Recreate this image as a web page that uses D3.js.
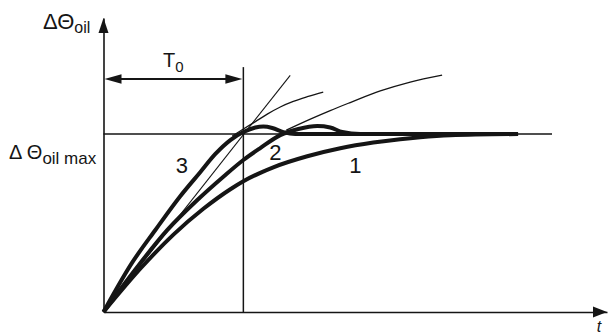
<!DOCTYPE html>
<html>
<head>
<meta charset="utf-8">
<script src="https://cdn.jsdelivr.net/npm/d3@7"></script>
<style>
  html, body { margin: 0; padding: 0; background: #fff; }
  svg { display: block; font-family: "Liberation Sans", Arial, sans-serif; }
</style>
</head>
<body>
<svg id="chart" width="608" height="334"></svg>
<script>
// Time is measured in units of T0, the rise relative to ΔΘoil max.
const tMax = 3.6;
const vMax = 1.652;
const tEndRef = 3.207;   // end of the ΔΘoil max reference line
const tTopT0 = 1.376;    // top of the T0 marker line
const vT0Arrow = 1.309;  // height of the T0 dimension arrow

// heating curve 1 (slowest)
const curve1 = [
  [0, 0], [0.271, 0.25], [0.5, 0.435], [0.714, 0.58], [0.907, 0.69],
  [1.0, 0.735], [1.121, 0.782], [1.214, 0.813], [1.457, 0.875], [1.693, 0.92],
  [1.929, 0.952], [2.121, 0.971], [2.264, 0.982], [2.479, 0.993], [2.964, 1.0]
];
// heating curve 2 (small overshoot)
const curve2 = [
  [0, 0], [0.243, 0.255], [0.457, 0.461], [0.671, 0.629], [0.857, 0.76],
  [1.0, 0.854], [1.121, 0.921], [1.264, 0.994], [1.393, 1.028], [1.529, 1.045],
  [1.621, 1.037], [1.707, 1.011], [1.836, 1.0], [2.4, 1.0], [2.964, 1.0]
];
// heating curve 3 (fastest)
const curve3 = [
  [0, 0], [0.207, 0.28], [0.371, 0.461], [0.55, 0.652], [0.693, 0.787],
  [0.8, 0.888], [0.907, 0.966], [1.0, 1.011], [1.086, 1.037], [1.143, 1.042],
  [1.207, 1.034], [1.286, 1.011], [1.371, 1.0], [2.1, 1.0], [2.964, 1.0]
];
// initial tangent through (T0, ΔΘoil max)
const tangentLine = [[0, 0], [1.335, 1.33]];
// continued rise without saturation
const extrapolationA = [
  [0.921, 0.989], [1.0, 1.028], [1.086, 1.07], [1.171, 1.112], [1.264, 1.152],
  [1.357, 1.183], [1.464, 1.211], [1.571, 1.236]
];
const extrapolationB = [
  [1.307, 1.022], [1.479, 1.084], [1.621, 1.132], [1.764, 1.177], [1.979, 1.242],
  [2.193, 1.292], [2.421, 1.331]
];

const curveNames = ["1", "2", "3"];
const curveNameAnchors = [[1.8, 0.781], [1.229, 0.854], [0.561, 0.781]];

const svg = d3.select("#chart");
const ink = "#151515";

const x = d3.scaleLinear().domain([0, tMax]).range([103.5, 607]);
const y = d3.scaleLinear().domain([0, vMax]).range([312, 18]);

const line = d3.line().x(d => x(d[0])).y(d => y(d[1])).curve(d3.curveMonotoneX);
const straight = d3.line().x(d => x(d[0])).y(d => y(d[1]));

// axes without ticks, arrowheads at their ends
const xAxis = svg.append("g")
  .attr("transform", `translate(0,${y(0)})`)
  .call(d3.axisBottom(x).tickValues([]).tickSizeOuter(0));
const yAxis = svg.append("g")
  .attr("transform", `translate(${x(0)},0)`)
  .call(d3.axisLeft(y).tickValues([]).tickSizeOuter(0));
[xAxis, yAxis].forEach(g => g.select(".domain").attr("stroke", ink).attr("stroke-width", 1.6));

const arrowHead = (tipX, tipY, dx, dy, len, half) => {
  // dx, dy: unit direction of the arrow
  const bx = tipX - dx * len, by = tipY - dy * len;
  const px = -dy * half, py = dx * half;
  return `M${tipX},${tipY}L${bx + px},${by + py}L${bx - px},${by - py}Z`;
};
svg.append("path").attr("d", arrowHead(x(tMax), y(0), 1, 0, 14, 5.5)).attr("fill", ink);
svg.append("path").attr("d", arrowHead(x(0), y(vMax), 0, -1, 15, 5)).attr("fill", ink);

// reference lines
svg.append("line")
  .attr("x1", x(0)).attr("x2", x(tEndRef))
  .attr("y1", y(1)).attr("y2", y(1))
  .attr("stroke", ink).attr("stroke-width", 1.4);
svg.append("line")
  .attr("x1", x(1)).attr("x2", x(1))
  .attr("y1", y(0)).attr("y2", y(tTopT0))
  .attr("stroke", ink).attr("stroke-width", 1.5);

// T0 dimension arrow
svg.append("line")
  .attr("x1", x(0) + 10).attr("x2", x(1) - 10)
  .attr("y1", y(vT0Arrow)).attr("y2", y(vT0Arrow))
  .attr("stroke", ink).attr("stroke-width", 2);
svg.append("path").attr("d", arrowHead(x(0) + 1, y(vT0Arrow), -1, 0, 17, 4.8)).attr("fill", ink);
svg.append("path").attr("d", arrowHead(x(1) - 1, y(vT0Arrow), 1, 0, 17, 4.8)).attr("fill", ink);

// thin construction lines
svg.append("path").attr("d", straight(tangentLine))
  .attr("fill", "none").attr("stroke", ink).attr("stroke-width", 1.1);
[extrapolationA, extrapolationB].forEach(pts => {
  svg.append("path").attr("d", line(pts))
    .attr("fill", "none").attr("stroke", ink).attr("stroke-width", 1.3);
});

// heating curves
[curve1, curve2, curve3].forEach(pts => {
  svg.append("path").attr("d", line(pts))
    .attr("fill", "none").attr("stroke", ink)
    .attr("stroke-width", 4).attr("stroke-linejoin", "round");
});

// curve numbers
svg.selectAll("text.curve-name").data(curveNames).enter().append("text")
  .attr("class", "curve-name")
  .attr("x", (d, i) => x(curveNameAnchors[i][0]))
  .attr("y", (d, i) => y(curveNameAnchors[i][1]))
  .attr("text-anchor", "middle")
  .attr("font-size", 22).attr("fill", ink)
  .text(d => d);

// axis titles
const yTitle = svg.append("text").attr("x", 43).attr("y", 29)
  .attr("font-size", 22).attr("fill", ink);
yTitle.append("tspan").text("ΔΘ");
yTitle.append("tspan").attr("font-size", 16).attr("dy", 4).text("oil");

const maxLabel = svg.append("text").attr("x", 9).attr("y", 159)
  .attr("font-size", 20).attr("fill", ink);
maxLabel.append("tspan").text("Δ Θ");
maxLabel.append("tspan").attr("font-size", 17).attr("dy", 5).text("oil max");

const t0Label = svg.append("text").attr("x", 163).attr("y", 67)
  .attr("font-size", 20).attr("fill", ink);
t0Label.append("tspan").text("T");
t0Label.append("tspan").attr("font-size", 15).attr("dy", 5).text("0");

svg.append("text").attr("x", 599).attr("y", 332)
  .attr("text-anchor", "middle")
  .attr("font-size", 16).attr("font-style", "italic").attr("fill", ink)
  .text("t");
</script>
</body>
</html>
